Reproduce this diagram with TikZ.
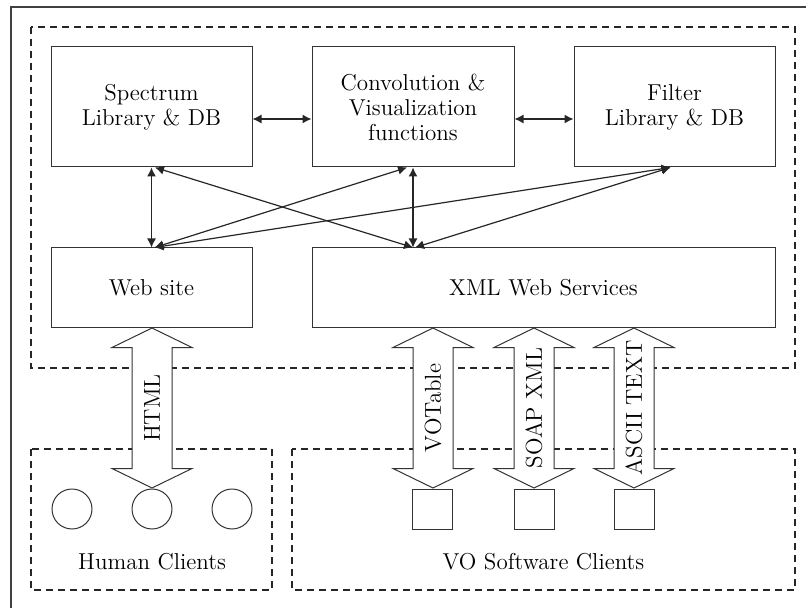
\documentclass[tikz,border=0pt]{standalone}
\usetikzlibrary{arrows.meta}

\tikzset{
  box/.style = {draw=black!80, line width=0.5pt, align=center, inner sep=0pt},
  group/.style = {draw=black!85, dash pattern=on 3.5pt off 2.5pt, line width=0.6pt},
  link/.style = {{Latex[length=4.5pt,width=4.5pt]}-{Latex[length=4.5pt,width=4.5pt]}, line width=0.6pt, black!85},
  pipe/.style = {draw=black!80, fill=white, line width=0.5pt},
  client/.style = {draw=black!80, line width=0.5pt, minimum size=20pt, inner sep=0pt},
}

\begin{document}
\begin{tikzpicture}[x=0.5pt, y=-0.5pt, font=\fontsize{11.5}{12.5}\selectfont]
			\useasboundingbox (0,0) rectangle (806,608);
			\draw [line width=0.8pt, black!75] (11,7) rectangle (830,630);

			% server side
			\begin{scope}
				\draw [group] (31,27) rectangle (795,368);

				\node [box, minimum width=100.5pt, minimum height=60pt] (spec) at (151.5,107) {Spectrum\\Library \& DB};
				\node [box, minimum width=101pt, minimum height=60pt] (conv) at (413,107) {Convolution \&\\Visualization\\functions};
				\node [box, minimum width=100.5pt, minimum height=60pt] (filt) at (674.5,107) {Filter\\Library \& DB};
				\node [box, minimum width=100.5pt, minimum height=40pt] (web) at (151.5,288) {Web site};
				\node [box, minimum width=231.5pt, minimum height=40pt] (xml) at (543.5,288) {XML Web Services};

				\coordinate (xtop) at (conv.south |- xml.north);

				\draw [link] ([yshift=-6pt]spec.east) -- ([yshift=-6pt]conv.west);
				\draw [link] ([yshift=-6pt]conv.east) -- ([yshift=-6pt]filt.west);
				\draw [link] (spec.south) -- (web.north);
				\draw [link] (conv.south) -- (xtop);
				\draw [link] ([xshift=1.75pt]spec.south) -- (xtop);
				\draw [link] ([xshift=-3pt]conv.south) -- ([xshift=1.5pt]web.north);
				\draw [link] ([xshift=-2pt]filt.south) -- ([xshift=1.5pt]web.north);
				\draw [link] ([xshift=-2pt]filt.south) -- ([xshift=1pt]xtop);
			\end{scope}

			% client side
			\begin{scope}
				\draw [group] (31,449) rectangle (272,590);
				\draw [group] (292,449) rectangle (795,590);

				\node [client, circle] (hum1) at (72,509) {};
				\node [client, circle] (hum2) at (152,509) {};
				\node [client, circle] (hum3) at (232,509) {};
				\node [client] (sw1) at (432,509) {};
				\node [client] (sw2) at (534,509) {};
				\node [client] (sw3) at (634,509) {};

				\node (human) at (152,562) {Human Clients};
				\node (vosw) at (543.5,562) {VO Software Clients};
			\end{scope}

			% protocols
			\foreach \x/\proto in {152/HTML, 433/VOTable, 534/SOAP XML, 634/ASCII TEXT} {
				\draw [pipe] (\x,328) -- ++(40,19.5) -- ++(-20,0) -- ++(0,121) -- ++(20,0) -- (\x,488)
					-- ++(-40,-19.5) -- ++(20,0) -- ++(0,-121) -- ++(-20,0) -- cycle;
				\node [rotate=90] (p\x) at (\x,408) {\proto};
			}
		\end{tikzpicture}
\end{document}
